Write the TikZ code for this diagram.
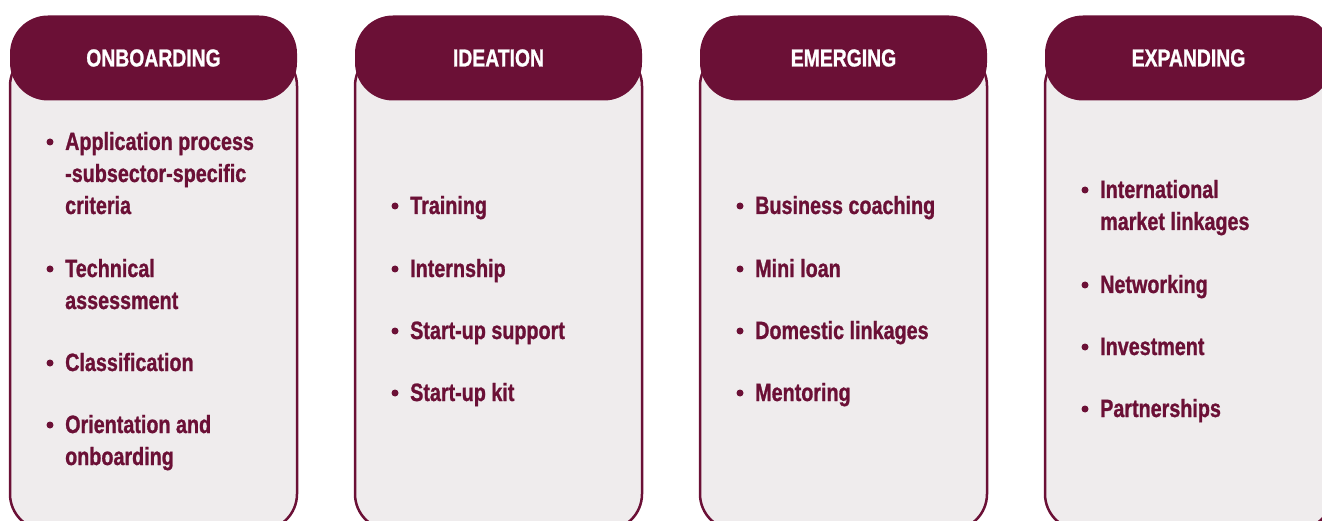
\documentclass[tikz,border=0pt]{standalone}
\usepackage{fontspec}
\newfontfamily\panelfont{Liberation Sans}[FakeStretch=0.79, FakeBold=1]
\definecolor{wine}{HTML}{6B1036}
\definecolor{panelgrey}{HTML}{EFECED}

\begin{document}
\begin{tikzpicture}[x=1pt, y=-1pt,
  panel/.style={draw=wine, line width=2.5pt, fill=panelgrey, rounded corners=36pt},
  header/.style={fill=wine, rounded corners=38pt, minimum width=287pt, minimum height=85pt,
    text=white, font=\panelfont\bfseries\fontsize{24.5}{28}\selectfont, inner sep=0pt},
  item/.style={text=wine, font=\panelfont\bfseries\fontsize{25}{32}\selectfont,
    align=left, anchor=base west, inner sep=0pt},
  bullet/.style={fill=wine}]
  \useasboundingbox (0,0) rectangle (1322,521);
  \clip (0,0) rectangle (1322,521);

  % the four panels
  \draw[panel] (10,50) rectangle (297,530);
  \draw[panel] (355,50) rectangle (642,530);
  \draw[panel] (700,50) rectangle (987,530);
  \draw[panel] (1045,50) rectangle (1332,530);

  \node[header] (onboarding) at (153.5,58) {ONBOARDING};
  \node[header] (ideation) at (498.5,58) {IDEATION};
  \node[header] (emerging) at (843.5,58) {EMERGING};
  \node[header] (expanding) at (1188.5,58) {EXPANDING};

  % onboarding (base = last line)
  \node[item] (on1) at (65,214) {Application process\\-subsector-specific\\criteria};
  \node[item] (on2) at (65,309) {Technical\\assessment};
  \node[item] (on3) at (65,371) {Classification};
  \node[item] (on4) at (65,465) {Orientation and\\onboarding};
  \fill[bullet] (50,142) circle (3.5);
  \fill[bullet] (50,269) circle (3.5);
  \fill[bullet] (50,363) circle (3.5);
  \fill[bullet] (50,425) circle (3.5);

  % ideation
  \node[item] (id1) at (410,214) {Training};
  \node[item] (id2) at (410,277) {Internship};
  \node[item] (id3) at (410,339) {Start-up support};
  \node[item] (id4) at (410,401) {Start-up kit};
  \fill[bullet] (395,206) circle (3.5);
  \fill[bullet] (395,269) circle (3.5);
  \fill[bullet] (395,331) circle (3.5);
  \fill[bullet] (395,393) circle (3.5);

  % emerging
  \node[item] (em1) at (755,214) {Business coaching};
  \node[item] (em2) at (755,277) {Mini loan};
  \node[item] (em3) at (755,339) {Domestic linkages};
  \node[item] (em4) at (755,401) {Mentoring};
  \fill[bullet] (740,206) circle (3.5);
  \fill[bullet] (740,269) circle (3.5);
  \fill[bullet] (740,331) circle (3.5);
  \fill[bullet] (740,393) circle (3.5);

  % expanding
  \node[item] (ex1) at (1100,230) {International\\market linkages};
  \node[item] (ex2) at (1100,293) {Networking};
  \node[item] (ex3) at (1100,355) {Investment};
  \node[item] (ex4) at (1100,417) {Partnerships};
  \fill[bullet] (1085,190) circle (3.5);
  \fill[bullet] (1085,285) circle (3.5);
  \fill[bullet] (1085,347) circle (3.5);
  \fill[bullet] (1085,409) circle (3.5);
\end{tikzpicture}
\end{document}
